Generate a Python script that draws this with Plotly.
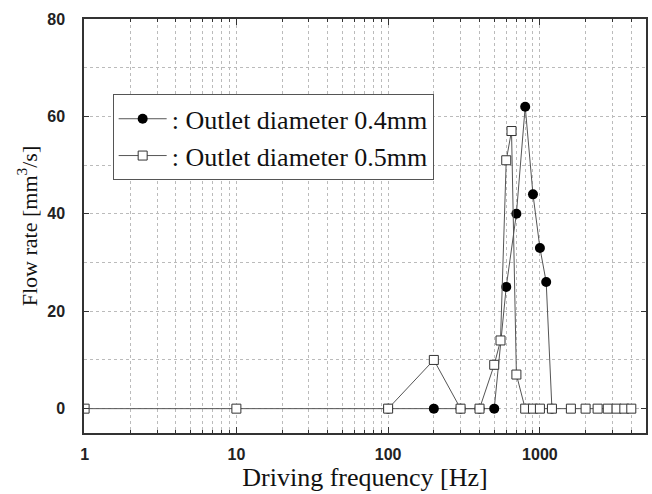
import plotly.graph_objects as go

# Data
freq_04 = [100, 200, 300, 400, 500, 600, 700, 800, 900, 1000, 1100, 1200]
flow_04 = [0, 0, 0, 0, 0, 25, 40, 62, 44, 33, 26, 0]

freq_05 = [1, 10, 100, 200, 300, 400, 500, 550, 600, 650, 700, 800, 900, 1000,
           1200, 1600, 2000, 2400, 2800, 3200, 3600, 4000]
flow_05 = [0, 0, 0, 10, 0, 0, 9, 14, 51, 57, 7, 0, 0, 0,
           0, 0, 0, 0, 0, 0, 0, 0]

name_04 = ": Outlet diameter 0.4mm"
name_05 = ": Outlet diameter 0.5mm"
x_ticks = [1, 10, 100, 1000]
y_ticks = [0, 20, 40, 60, 80]

line_col = "#555555"
frame_col = "#333333"
grid_col = "#bbbbbb"

fig = go.Figure()
fig.add_trace(go.Scatter(
    x=freq_04, y=flow_04, name=name_04, mode="lines+markers",
    line=dict(color=line_col, width=1),
    marker=dict(symbol="circle", size=10, color="#000000",
                line=dict(color="#000000", width=0)),
))
fig.add_trace(go.Scatter(
    x=freq_05, y=flow_05, name=name_05, mode="lines+markers",
    line=dict(color=line_col, width=1),
    marker=dict(symbol="square", size=9, color="#ffffff",
                line=dict(color="#333333", width=1)),
))

minor_x = [m * 10 ** d for d in range(0, 4) for m in range(2, 10)]

fig.update_layout(
    width=652, height=494,
    margin=dict(l=84, r=4, t=19, b=61),
    paper_bgcolor="white", plot_bgcolor="white",
    showlegend=True,
    legend=dict(
        x=0.051, y=0.818, xanchor="left", yanchor="top",
        bgcolor="white", bordercolor="#555555", borderwidth=1,
        font=dict(family="Liberation Serif", size=26, color="#111111"),
        tracegroupgap=0, itemwidth=48,
    ),
    xaxis=dict(
        type="log", range=[-0.004, 3.699],
        tickvals=x_ticks, ticktext=[str(v) for v in x_ticks],
        ticks="inside", ticklen=6, tickcolor=frame_col, tickwidth=1,
        showline=True, linecolor=frame_col, linewidth=1.5, mirror="ticks",
        showgrid=True, gridcolor=grid_col, griddash="dot", gridwidth=1,
        zeroline=False,
        tickfont=dict(family="Liberation Sans", size=16, color="#222222", weight="bold"),
        ticklabelstandoff=6,
        minor=dict(tickvals=minor_x, ticks="inside", ticklen=3, tickcolor=frame_col,
                   showgrid=True, gridcolor=grid_col, griddash="dot", gridwidth=1),
        title=dict(text="Driving frequency [Hz]",
                   font=dict(family="Liberation Serif", size=26, color="#111111"),
                   standoff=0),
    ),
    yaxis=dict(
        range=[-5, 80],
        tickvals=y_ticks,
        ticks="inside", ticklen=5, tickcolor=frame_col, tickwidth=1,
        showline=True, linecolor=frame_col, linewidth=1.5, mirror="ticks",
        showgrid=True, gridcolor=grid_col, griddash="dot", gridwidth=1,
        zeroline=False,
        tickfont=dict(family="Liberation Sans", size=16, color="#222222", weight="bold"),
        ticklabelstandoff=14,
        minor=dict(dtick=10, tick0=0, ticks="", showgrid=True,
                   gridcolor=grid_col, griddash="dot", gridwidth=1),
        title=dict(text="Flow rate [mm<sup>3</sup>/s]",
                   font=dict(family="Liberation Serif", size=22, color="#111111"),
                   standoff=4),
    ),
)

fig.write_html("out.html")
